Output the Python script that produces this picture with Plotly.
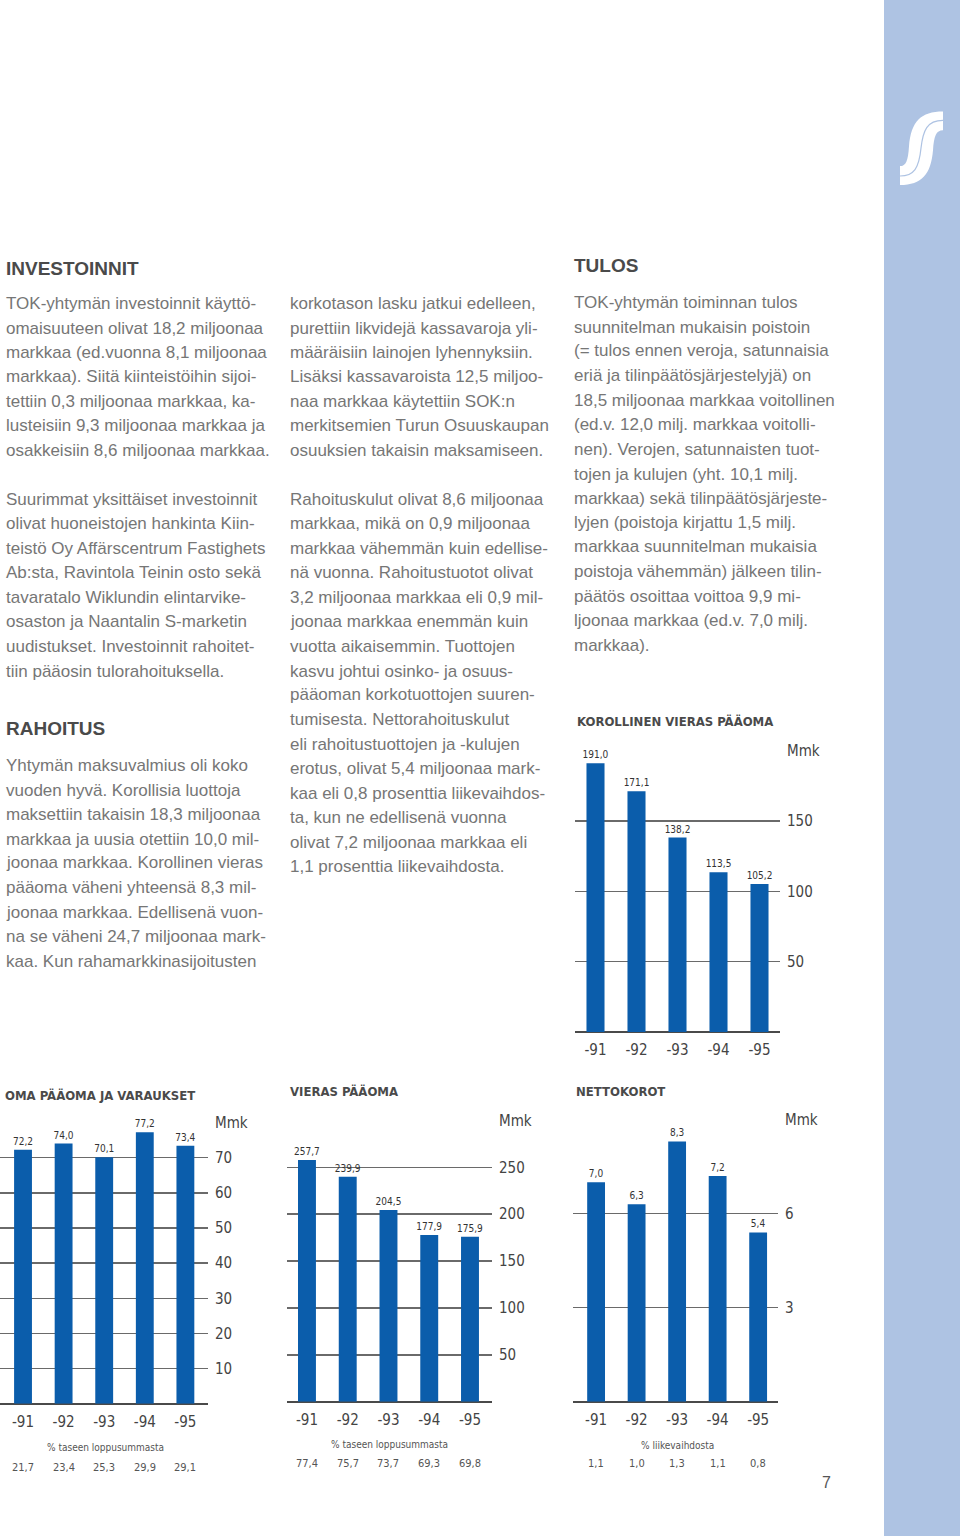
import plotly.graph_objects as go

# ---------------- data ----------------
years = ["-91", "-92", "-93", "-94", "-95"]
korollinen = [191.0, 171.1, 138.2, 113.5, 105.2]
oma = [72.2, 74.0, 70.1, 77.2, 73.4]
oma_pct = [21.7, 23.4, 25.3, 29.9, 29.1]
vieras = [257.7, 239.9, 204.5, 177.9, 175.9]
vieras_pct = [77.4, 75.7, 73.7, 69.3, 69.8]
netto = [7.0, 6.3, 8.3, 7.2, 5.4]
netto_pct = [1.1, 1.0, 1.3, 1.1, 0.8]

kor_ticks = [50, 100, 150, 200]
kor_ticktext = ["50", "100", "150", "Mmk"]
oma_ticks = [10, 20, 30, 40, 50, 60, 70, 80]
oma_ticktext = ["10", "20", "30", "40", "50", "60", "70", "Mmk"]
vie_ticks = [50, 100, 150, 200, 250, 300]
vie_ticktext = ["50", "100", "150", "200", "250", "Mmk"]
net_ticks = [3, 6, 9]
net_ticktext = ["3", "6", "Mmk"]

col1 = [
    (268, "INVESTOINNIT", "h"),
    (303, "TOK-yhtymän investoinnit käyttö-", "t"),
    (328, "omaisuuteen olivat 18,2 miljoonaa", "t"),
    (353, "markkaa (ed.vuonna 8,1 miljoonaa", "t"),
    (377, "markkaa). Siitä kiinteistöihin sijoi-", "t"),
    (402, "tettiin 0,3 miljoonaa markkaa, ka-", "t"),
    (426, "lusteisiin 9,3 miljoonaa markkaa ja", "t"),
    (451, "osakkeisiin 8,6 miljoonaa markkaa.", "t"),
    (500, "Suurimmat yksittäiset investoinnit", "t"),
    (525, "olivat huoneistojen hankinta Kiin-", "t"),
    (550, "teistö Oy Affärscentrum Fastighets", "t"),
    (574, "Ab:sta, Ravintola Teinin osto sekä", "t"),
    (599, "tavaratalo Wiklundin elintarvike-", "t"),
    (623, "osaston ja Naantalin S-marketin", "t"),
    (648, "uudistukset. Investoinnit rahoitet-", "t"),
    (673, "tiin pääosin tulorahoituksella.", "t"),
    (731, "RAHOITUS", "h"),
    (768, "Yhtymän maksuvalmius oli koko", "t"),
    (793, "vuoden hyvä. Korollisia luottoja", "t"),
    (817, "maksettiin takaisin 18,3 miljoonaa", "t"),
    (842, "markkaa ja uusia otettiin 10,0 mil-", "t"),
    (866, "joonaa markkaa. Korollinen vieras", "t"),
    (891, "pääoma väheni yhteensä 8,3 mil-", "t"),
    (916, "joonaa markkaa. Edellisenä vuon-", "t"),
    (940, "na se väheni 24,7 miljoonaa mark-", "t"),
    (965, "kaa. Kun rahamarkkinasijoitusten", "t"),
]
col2 = [
    (303, "korkotason lasku jatkui edelleen,", "t"),
    (328, "purettiin likvidejä kassavaroja yli-", "t"),
    (353, "määräisiin lainojen lyhennyksiin.", "t"),
    (377, "Lisäksi kassavaroista 12,5 miljoo-", "t"),
    (402, "naa markkaa käytettiin SOK:n", "t"),
    (426, "merkitsemien Turun Osuuskaupan", "t"),
    (451, "osuuksien takaisin maksamiseen.", "t"),
    (500, "Rahoituskulut olivat 8,6 miljoonaa", "t"),
    (525, "markkaa, mikä on 0,9 miljoonaa", "t"),
    (550, "markkaa vähemmän kuin edellise-", "t"),
    (574, "nä vuonna. Rahoitustuotot olivat", "t"),
    (599, "3,2 miljoonaa markkaa eli 0,9 mil-", "t"),
    (623, "joonaa markkaa enemmän kuin", "t"),
    (648, "vuotta aikaisemmin. Tuottojen", "t"),
    (673, "kasvu johtui osinko- ja osuus-", "t"),
    (697, "pääoman korkotuottojen suuren-", "t"),
    (722, "tumisesta. Nettorahoituskulut", "t"),
    (747, "eli rahoitustuottojen ja -kulujen", "t"),
    (771, "erotus, olivat 5,4 miljoonaa mark-", "t"),
    (796, "kaa eli 0,8 prosenttia liikevaihdos-", "t"),
    (820, "ta, kun ne edellisenä vuonna", "t"),
    (845, "olivat 7,2 miljoonaa markkaa eli", "t"),
    (870, "1,1 prosenttia liikevaihdosta.", "t"),
]
col3 = [
    (265, "TULOS", "h"),
    (302, "TOK-yhtymän toiminnan tulos", "t"),
    (327, "suunnitelman mukaisin poistoin", "t"),
    (351, "(= tulos ennen veroja, satunnaisia", "t"),
    (376, "eriä ja tilinpäätösjärjestelyjä) on", "t"),
    (401, "18,5 miljoonaa markkaa voitollinen", "t"),
    (425, "(ed.v. 12,0 milj. markkaa voitolli-", "t"),
    (450, "nen). Verojen, satunnaisten tuot-", "t"),
    (475, "tojen ja kulujen (yht. 10,1 milj.", "t"),
    (499, "markkaa) sekä tilinpäätösjärjeste-", "t"),
    (524, "lyjen (poistoja kirjattu 1,5 milj.", "t"),
    (548, "markkaa suunnitelman mukaisia", "t"),
    (573, "poistoja vähemmän) jälkeen tilin-", "t"),
    (598, "päätös osoittaa voittoa 9,9 mi-", "t"),
    (622, "ljoonaa markkaa (ed.v. 7,0 milj.", "t"),
    (647, "markkaa).", "t"),
]

# ---------------- style ----------------
W, H = 960, 1536
BAR = "#0b5dab"
GRID = "#6a6a6a"
BASE = "#4a4a4a"
TXT = "#767676"
HEAD = "#4a4a4a"
TICK = "#444444"
COND = "DejaVu Sans Condensed, Liberation Sans Narrow, Arial Narrow, sans-serif"
BODY = "Liberation Sans, Arial, Helvetica, sans-serif"
SIDE = "#aec3e3"
TEXT_DY = -3   # general correction for annotation vertical centre
BODY_DY = -4   # extra correction for the body-text columns


def px(x):
    return x / W


def py(y):
    return 1 - y / H


def fmt(v):
    return f"{v:.1f}".replace(".", ",")


fig = go.Figure()

charts = [
    dict(vals=korollinen, xpx=(575, 780), ypx=(746, 1029), yr=[0, 200], xr=[-0.5, 4.5],
         tv=kor_ticks, tt=kor_ticktext),
    dict(vals=oma, xpx=(0, 208), ypx=(1120, 1403), yr=[0, 80], xr=[-0.567, 4.557],
         tv=oma_ticks, tt=oma_ticktext),
    dict(vals=vieras, xpx=(287, 492), ypx=(1118, 1401), yr=[0, 300], xr=[-0.49, 4.54],
         tv=vie_ticks, tt=vie_ticktext),
    dict(vals=netto, xpx=(573, 778), ypx=(1117, 1401), yr=[0, 9], xr=[-0.57, 4.49],
         tv=net_ticks, tt=net_ticktext),
]

layout_axes = {}
for i, c in enumerate(charts, start=1):
    xa = "x" if i == 1 else f"x{i}"
    ya = "y" if i == 1 else f"y{i}"
    fig.add_trace(go.Bar(
        x=years, y=c["vals"], xaxis=xa, yaxis=ya,
        marker=dict(color=BAR, line=dict(width=0)), width=0.44,
        text=[fmt(v) for v in c["vals"]], textposition="outside",
        textfont=dict(family=COND, size=10, color="#333333"),
        constraintext="none", cliponaxis=False, showlegend=False,
        hoverinfo="skip",
    ))
    xkey = "xaxis" if i == 1 else f"xaxis{i}"
    ykey = "yaxis" if i == 1 else f"yaxis{i}"
    layout_axes[xkey] = dict(
        domain=[px(c["xpx"][0]), px(c["xpx"][1])], anchor=ya,
        range=c["xr"], type="category", showgrid=False, zeroline=False,
        showline=False, ticks="", ticklabelstandoff=7,
        tickfont=dict(family=COND, size=15, color=TICK), fixedrange=True,
    )
    layout_axes[ykey] = dict(
        domain=[py(c["ypx"][1]), py(c["ypx"][0])], anchor=xa, side="right",
        range=c["yr"], tickvals=c["tv"], ticktext=c["tt"],
        showgrid=True, gridcolor=GRID, gridwidth=1.5,
        zeroline=True, zerolinecolor=BASE, zerolinewidth=2.5,
        showline=False, ticks="", ticklabelstandoff=6,
        tickfont=dict(family=COND, size=15, color=TICK), fixedrange=True,
    )

annotations = []


def add_text(x, y, text, size, color, family=BODY, bold=False, anchor="left",
             xref="paper", dy=TEXT_DY):
    annotations.append(dict(
        x=x, y=py(y + dy), xref=xref, yref="paper",
        text=f"<b>{text}</b>" if bold else text,
        showarrow=False, xanchor=anchor, yanchor="middle",
        font=dict(family=family, size=size, color=color),
    ))


for xp, col in [(4, col1), (288, col2), (572, col3)]:
    for y, t, kind in col:
        if kind == "h":
            add_text(px(xp), y, t, 19, HEAD, bold=True, dy=TEXT_DY + BODY_DY)
        else:
            add_text(px(xp), y, t, 17, TXT, dy=TEXT_DY + BODY_DY)

# chart titles
add_text(px(575), 720, "KOROLLINEN VIERAS PÄÄOMA", 13, HEAD, family=COND, bold=True)
add_text(px(3), 1096, "OMA PÄÄOMA JA VARAUKSET", 13, HEAD, family=COND, bold=True)
add_text(px(288), 1092, "VIERAS PÄÄOMA", 13, HEAD, family=COND, bold=True)
add_text(px(574), 1092, "NETTOKOROT", 13, HEAD, family=COND, bold=True)

# percentage rows under bottom charts (x given as category index)
for xa, lab, labx, laby, vals, valy in [
    ("x2", "% taseen loppusummasta", 105, 1450, oma_pct, 1467),
    ("x3", "% taseen loppusummasta", 389, 1447, vieras_pct, 1463),
    ("x4", "% liikevaihdosta", 677, 1448, netto_pct, 1463),
]:
    add_text(px(labx), laby, lab, 10, "#555555", family=COND, anchor="center")
    for idx, v in enumerate(vals):
        add_text(idx, valy, fmt(v), 11, "#555555", family=COND, anchor="center",
                 xref=xa, dy=0)

# page number
add_text(px(826), 1482, "7", 16, "#555555", anchor="center", dy=0)

# sidebar and logo
shapes = [dict(type="rect", xref="paper", yref="paper", x0=px(884), x1=1.02,
               y0=-0.02, y1=1.02,
               fillcolor=SIDE, line=dict(width=0), layer="below")]


def path(pts, close=True):
    out = []
    for cmd, coords in pts:
        s = " ".join(f"{px(a):.5f},{py(b):.5f}" for a, b in coords)
        out.append(f"{cmd} {s}")
    return " ".join(out) + (" Z" if close else "")


logo = path([
    ("M", [(943, 103)]),
    ("L", [(943, 122)]),
    ("C", [(936, 122), (934, 128), (933, 142)]),
    ("C", [(931, 166), (922, 177), (900, 177)]),
    ("L", [(900, 158)]),
    ("C", [(906, 158), (908, 153), (909, 138)]),
    ("C", [(911, 113), (921, 103), (943, 103)]),
])
shapes.append(dict(type="path", xref="paper", yref="paper", path=logo,
                   fillcolor="white", line=dict(width=0)))
seam = path([
    ("M", [(943, 112)]),
    ("C", [(927, 112), (923, 122), (921, 140)]),
    ("C", [(919, 160), (914, 168), (900, 168)]),
], close=False)
shapes.append(dict(type="path", xref="paper", yref="paper", path=seam,
                   line=dict(color=SIDE, width=1.2)))

fig.update_layout(
    width=W, height=H, margin=dict(l=0, r=0, t=0, b=0),
    paper_bgcolor="white", plot_bgcolor="rgba(0,0,0,0)",
    showlegend=False, bargap=0.5,
    annotations=annotations, shapes=shapes,
    **layout_axes,
)

fig.write_html(
    "out.html",
    config={"displayModeBar": False, "staticPlot": True},
    post_script="document.body.style.margin='0';document.body.style.overflow='hidden';",
)
